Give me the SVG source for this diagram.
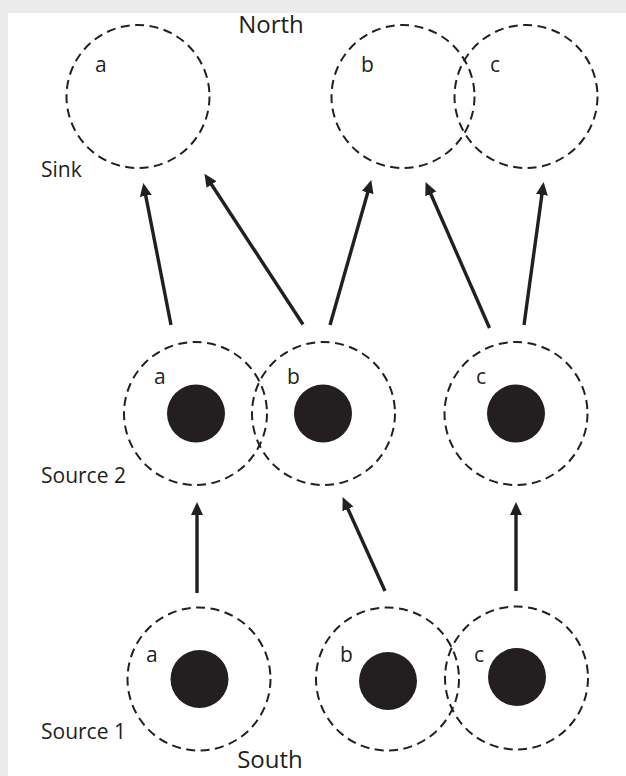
<svg xmlns="http://www.w3.org/2000/svg" width="626" height="776" viewBox="0 0 626 776">
<style>
.ring{fill:none;stroke:#231f20;stroke-width:2;stroke-dasharray:9 5.5}
.disc{fill:#231f20}
.lbl{font-family:"Open Sans","Liberation Sans",sans-serif;font-size:21px;fill:#231f20}
.big{font-family:"Open Sans","Liberation Sans",sans-serif;font-size:24px;fill:#231f20}
.arr{stroke:#231f20;stroke-width:3.4;fill:none;marker-end:url(#ah)}
</style>
<defs>
<marker id="ah" markerUnits="userSpaceOnUse" markerWidth="15" markerHeight="13" refX="4" refY="6" orient="auto">
<path d="M0,0 L13,6 L0,12 z" fill="#231f20"/>
</marker>
</defs>
<rect x="0" y="0" width="626" height="776" fill="#ebebeb"/>
<rect x="8" y="13" width="618" height="763" fill="#ffffff"/>
<g id="titles">
<text class="big" x="271" y="33" text-anchor="middle">North</text>
<text class="big" x="270" y="768" text-anchor="middle">South</text>
<text class="lbl" x="41" y="177">Sink</text>
<text class="lbl" x="41" y="483">Source 2</text>
<text class="lbl" x="41" y="739">Source 1</text>
</g>
<g id="sink-a"><circle class="ring" cx="138" cy="96.5" r="71.5"/><text class="lbl" x="95" y="72">a</text></g>
<g id="sink-b"><circle class="ring" cx="403" cy="96.5" r="71.5"/><text class="lbl" x="361" y="72">b</text></g>
<g id="sink-c"><circle class="ring" cx="526" cy="96.5" r="71.5"/><text class="lbl" x="490" y="72">c</text></g>
<g id="source2-a"><circle class="ring" cx="195.5" cy="413.5" r="71.5"/><circle class="disc" cx="196" cy="413.5" r="29"/><text class="lbl" x="154" y="384">a</text></g>
<g id="source2-b"><circle class="ring" cx="323.5" cy="413.5" r="71.5"/><circle class="disc" cx="323" cy="413.5" r="29"/><text class="lbl" x="287" y="384">b</text></g>
<g id="source2-c"><circle class="ring" cx="516" cy="413.5" r="71.5"/><circle class="disc" cx="516" cy="413.5" r="29"/><text class="lbl" x="476" y="384">c</text></g>
<g id="source1-a"><circle class="ring" cx="199" cy="679" r="71.5"/><circle class="disc" cx="199.5" cy="679" r="29"/><text class="lbl" x="146" y="662">a</text></g>
<g id="source1-b"><circle class="ring" cx="387.5" cy="679" r="71.5"/><circle class="disc" cx="388" cy="681" r="29"/><text class="lbl" x="340" y="662">b</text></g>
<g id="source1-c"><circle class="ring" cx="516.5" cy="678" r="71.5"/><circle class="disc" cx="517" cy="677" r="29"/><text class="lbl" x="474" y="662">c</text></g>
<g id="connectors">
<line class="arr" x1="171" y1="325" x2="145" y2="191.9"/>
<line class="arr" x1="303" y1="324.5" x2="209.4" y2="181.2"/>
<line class="arr" x1="330" y1="325" x2="368.8" y2="188.7"/>
<line class="arr" x1="489.5" y1="328" x2="429.2" y2="190.3"/>
<line class="arr" x1="524" y1="325" x2="542.4" y2="190.9"/>
<line class="arr" x1="197" y1="593" x2="197" y2="511"/>
<line class="arr" x1="385" y1="591" x2="346.3" y2="505.3"/>
<line class="arr" x1="516" y1="591" x2="516" y2="511"/>
</g>
</svg>
